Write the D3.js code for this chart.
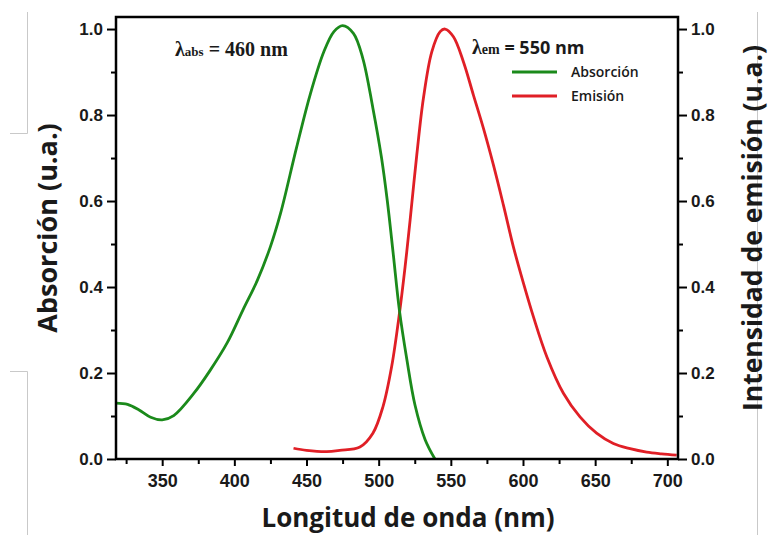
<!DOCTYPE html>
<html>
<head>
<meta charset="utf-8">
<script src="https://cdn.jsdelivr.net/npm/d3@7"></script>
<style>
  body { margin: 0; background: #fff; }
  svg { display: block; }
  .tick text { font-family: "Liberation Sans", Arial, sans-serif; font-weight: bold; fill: #1a1a1a; }
  .tick line { stroke: #000; stroke-width: 2; }
  .domain { display: none; }
</style>
</head>
<body>
<script>
// wavelength (nm) / absorbance
var absWl  = [318, 326, 334, 342, 350, 358, 372, 383, 395, 406, 416, 425, 432, 443, 452.5, 462, 469, 475, 482.5, 489, 496, 502, 506, 510, 514.4, 519.5, 525.2, 532.2, 539];
var absVal = [0.130, 0.127, 0.114, 0.097, 0.091, 0.101, 0.153, 0.205, 0.270, 0.347, 0.416, 0.494, 0.571, 0.723, 0.847, 0.947, 0.994, 1.008, 0.990, 0.932, 0.816, 0.700, 0.600, 0.480, 0.345, 0.232, 0.125, 0.045, 0.0];

var emWl  = [441, 450, 464, 473, 487, 496, 503, 509, 514.4, 518.3, 521.8, 526.4, 531, 536.8, 542.6, 546, 551.8, 558.7, 565.6, 572.6, 579.5, 586.4, 593.3, 600.3, 607.2, 616.5, 628, 639.5, 651, 662.6, 674.2, 685.7, 696, 706.5];
var emVal = [0.025, 0.020, 0.017, 0.020, 0.028, 0.060, 0.122, 0.215, 0.339, 0.447, 0.556, 0.707, 0.839, 0.947, 0.994, 1.0, 0.982, 0.924, 0.847, 0.769, 0.684, 0.591, 0.494, 0.409, 0.331, 0.238, 0.153, 0.098, 0.060, 0.036, 0.024, 0.016, 0.012, 0.009];

var xTicks = [350, 400, 450, 500, 550, 600, 650, 700];
var xMinor = [325, 375, 425, 475, 525, 575, 625, 675];
var yTicks = [0, 0.2, 0.4, 0.6, 0.8, 1.0];
var yMinor = [0.1, 0.3, 0.5, 0.7, 0.9];

var width = 770, height = 535;
var plotL = 116, plotR = 678, plotT = 17, plotB = 459;
var green = "#1b8a1b", red = "#e01f26";

var svg = d3.select("body").append("svg")
    .attr("width", width)
    .attr("height", height);

svg.append("rect").attr("width", width).attr("height", height).attr("fill", "#fff");

// faint page-border artifacts around the figure
var gray = "#c9c9c9";
svg.append("path").attr("fill", "none").attr("stroke", gray).attr("stroke-width", 1)
    .attr("d", "M27.5,12V133.5H10 M10,371.5H27.5V535 M757.5,12V535");

var x = d3.scaleLinear().domain([318, 707.4]).range([plotL, plotR]);
var y = d3.scaleLinear().domain([0, 1.028]).range([plotB, plotT]);

// axes
svg.append("g").attr("transform", "translate(" + plotL + ",0)")
    .call(d3.axisLeft(y).tickValues(yTicks).tickFormat(d3.format(".1f")).tickSize(9).tickPadding(4))
    .selectAll("text").style("font-size", "17px");
svg.append("g").attr("transform", "translate(" + plotL + ",0)")
    .call(d3.axisLeft(y).tickValues(yMinor).tickFormat("").tickSize(5));

svg.append("g").attr("transform", "translate(" + plotR + ",0)")
    .call(d3.axisRight(y).tickValues(yTicks).tickFormat(d3.format(".1f")).tickSize(9).tickPadding(4))
    .selectAll("text").style("font-size", "17px");
svg.append("g").attr("transform", "translate(" + plotR + ",0)")
    .call(d3.axisRight(y).tickValues(yMinor).tickFormat("").tickSize(5));

svg.append("g").attr("transform", "translate(0," + plotB + ")")
    .call(d3.axisBottom(x).tickValues(xTicks).tickSize(7).tickPadding(8))
    .selectAll("text").style("font-size", "18px");
svg.append("g").attr("transform", "translate(0," + plotB + ")")
    .call(d3.axisBottom(x).tickValues(xMinor).tickFormat("").tickSize(5));

// curves
var absData = absWl.map(function(d, i) { return [d, absVal[i]]; });
var emData = emWl.map(function(d, i) { return [d, emVal[i]]; });

var line = d3.line()
    .x(function(d) { return x(d[0]); })
    .y(function(d) { return y(d[1]); })
    .curve(d3.curveCatmullRom.alpha(0.5));

svg.append("path").attr("d", line(emData))
    .attr("fill", "none").attr("stroke", red).attr("stroke-width", 2.8);
svg.append("path").attr("d", line(absData))
    .attr("fill", "none").attr("stroke", green).attr("stroke-width", 2.8);

// frame
svg.append("rect")
    .attr("x", plotL).attr("y", plotT)
    .attr("width", plotR - plotL).attr("height", plotB - plotT)
    .attr("fill", "none").attr("stroke", "#000").attr("stroke-width", 2.5);

// axis titles
svg.append("text")
    .attr("x", 408).attr("y", 527)
    .attr("text-anchor", "middle")
    .style("font-family", "'Open Sans', sans-serif").style("font-weight", "bold").style("font-size", "26px")
    .attr("fill", "#1a1a1a")
    .text("Longitud de onda (nm)");

svg.append("text")
    .attr("transform", "translate(57,228) rotate(-90)")
    .attr("text-anchor", "middle")
    .style("font-family", "'Open Sans', sans-serif").style("font-weight", "bold").style("font-size", "27px")
    .attr("fill", "#1a1a1a")
    .text("Absorción (u.a.)");

svg.append("text")
    .attr("transform", "translate(762,228) rotate(-90)")
    .attr("text-anchor", "middle")
    .style("font-family", "'Open Sans', sans-serif").style("font-weight", "bold").style("font-size", "26.5px")
    .attr("fill", "#1a1a1a")
    .text("Intensidad de emisión (u.a.)");

// annotations
var a1 = svg.append("text").attr("x", 175).attr("y", 56)
    .style("font-family", "'Liberation Serif', 'Times New Roman', serif").style("font-weight", "bold")
    .attr("fill", "#1a1a1a");
a1.append("tspan").style("font-size", "20px").text("λ");
a1.append("tspan").style("font-size", "13px").text("abs");
a1.append("tspan").style("font-size", "20px").text(" = 460 nm");

var a2 = svg.append("text").attr("x", 472).attr("y", 54)
    .style("font-weight", "bold").attr("fill", "#1a1a1a");
a2.append("tspan").style("font-family", "'Liberation Serif', serif").style("font-size", "20px").text("λ");
a2.append("tspan").style("font-family", "'Liberation Serif', serif").style("font-size", "14px").text("em");
a2.append("tspan").style("font-family", "'Open Sans', sans-serif").style("font-size", "18px").text(" = 550 nm");

// legend
var legend = [["Absorción", green, 72], ["Emisión", red, 96]];
legend.forEach(function(l) {
    svg.append("line").attr("x1", 512).attr("x2", 557).attr("y1", l[2]).attr("y2", l[2])
        .attr("stroke", l[1]).attr("stroke-width", 2.8);
    svg.append("text").attr("x", 571).attr("y", l[2] + 5)
        .style("font-family", "'Open Sans', sans-serif").style("font-weight", "600").style("font-size", "14px")
        .attr("fill", "#1a1a1a")
        .text(l[0]);
});
</script>
</body>
</html>
